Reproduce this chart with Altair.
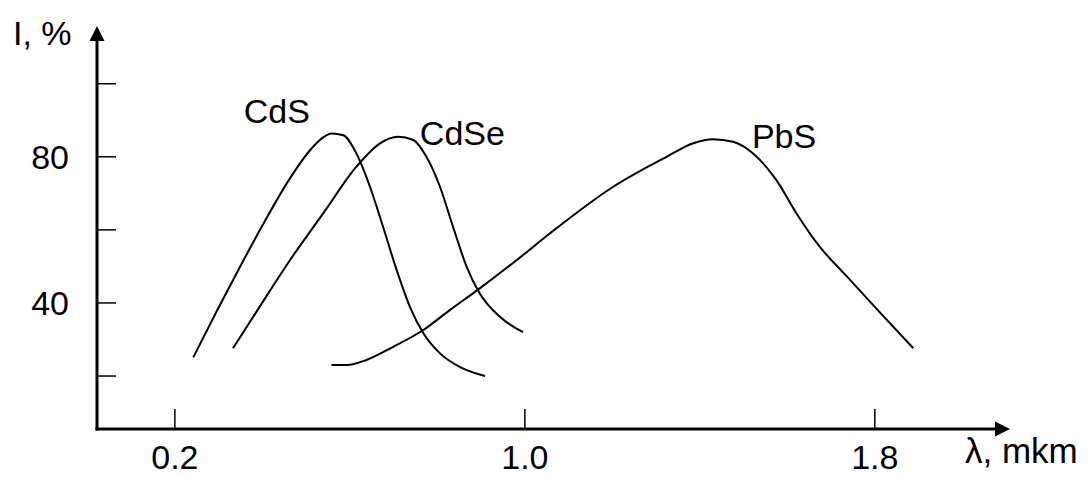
import altair as alt
import pandas as pd

# ---- data ----
cds_x = [0.242, 0.295, 0.349, 0.402, 0.463, 0.509, 0.539, 0.558, 0.585, 0.615, 0.646, 0.676, 0.707, 0.737, 0.768, 0.806, 0.851, 0.909]
cds_y = [25.1, 37.6, 49.9, 61.6, 74.1, 81.8, 85.3, 86.4, 85.9, 80.9, 71.8, 60.8, 49.0, 39.0, 31.7, 26.2, 22.5, 20.0]

cdse_x = [0.333, 0.394, 0.463, 0.539, 0.615, 0.669, 0.710, 0.745, 0.775, 0.806, 0.836, 0.867, 0.897, 0.943, 0.996]
cdse_y = [27.6, 39.0, 51.7, 64.5, 77.3, 83.7, 85.5, 84.6, 80.0, 71.8, 60.8, 49.9, 42.6, 36.2, 32.0]

pbs_x = [0.558, 0.593, 0.638, 0.699, 0.768, 0.829, 0.897, 0.981, 1.057, 1.202, 1.324, 1.385, 1.430, 1.476, 1.530, 1.575, 1.621, 1.674, 1.735, 1.811, 1.888]
pbs_y = [23.0, 23.0, 24.4, 28.0, 32.6, 38.1, 44.0, 51.7, 59.0, 71.8, 80.0, 83.7, 84.8, 84.1, 80.0, 73.6, 64.5, 55.4, 47.4, 37.5, 27.6]

series_names = ["CdS", "CdSe", "PbS"]
label_x = [0.433, 0.760, 1.519]
label_y = [89.2, 83.2, 82.4]
label_align = ["center", "left", "left"]

xtick_vals = [0.2, 1.0, 1.8]
xtick_labels = ["0.2", "1.0", "1.8"]
ytick_vals = [20, 40, 60, 80, 100]
ylabel_vals = [40, 80]
ylabel_text = ["40", "80"]

# ---- build tables ----
rows = []
for name, xs_, ys_ in zip(series_names, [cds_x, cdse_x, pbs_x], [cds_y, cdse_y, pbs_y]):
    for i, (a, b) in enumerate(zip(xs_, ys_)):
        rows.append({"series": name, "order": i, "lam": a, "I": b})
curves = pd.DataFrame(rows)

labels = pd.DataFrame({"name": series_names, "lam": label_x, "I": label_y, "align": label_align})
xt = pd.DataFrame({"lam": xtick_vals, "label": xtick_labels})
yt = pd.DataFrame({"I": ytick_vals})
yl = pd.DataFrame({"I": ylabel_vals, "label": ylabel_text})
dummy = alt.Data(values=[{}])

FONT = "Liberation Sans"
FS = 34
W, H = 913, 403

xsc = alt.Scale(domain=[0.022, 2.109], nice=False, zero=False)
ysc = alt.Scale(domain=[5.5, 115.8], nice=False, zero=False)

X = lambda: alt.X("lam:Q", scale=xsc, axis=None)
Y = lambda: alt.Y("I:Q", scale=ysc, axis=None)

lines = alt.Chart(curves).mark_line(
    interpolate="monotone", color="black", strokeWidth=2
).encode(x=X(), y=Y(), detail="series:N", order="order:Q")

xaxis = alt.Chart(dummy).mark_rule(color="black", strokeWidth=3).encode(
    x=alt.value(-1.5), x2=alt.value(W - 14), y=alt.value(H)
)
yaxis = alt.Chart(dummy).mark_rule(color="black", strokeWidth=3).encode(
    x=alt.value(0), y=alt.value(H + 1.5), y2=alt.value(14)
)
yarrow = alt.Chart(dummy).mark_point(
    shape="M0,-1L1,1L-1,1Z", filled=True, color="black", opacity=1, size=225, strokeWidth=0
).encode(x=alt.value(0), y=alt.value(7.5))
xarrow = alt.Chart(dummy).mark_point(
    shape="M1,0L-1,-1L-1,1Z", filled=True, color="black", opacity=1, size=225, strokeWidth=0
).encode(x=alt.value(W - 7.5), y=alt.value(H))

xticks = alt.Chart(xt).mark_rule(color="black", strokeWidth=1.5).encode(
    x=X(), y=alt.value(H), y2=alt.value(H - 20)
)
yticks = alt.Chart(yt).mark_rule(color="black", strokeWidth=1.5).encode(
    y=Y(), x=alt.value(0), x2=alt.value(19)
)

xlabels = alt.Chart(xt).mark_text(
    font=FONT, fontSize=FS, color="black", align="center", baseline="alphabetic"
).encode(x=X(), y=alt.value(H + 40), text="label:N")
ylabels = alt.Chart(yl).mark_text(
    font=FONT, fontSize=FS, color="black", align="right", baseline="middle", dy=2
).encode(y=Y(), x=alt.value(-28), text="label:N")

curve_labels = [
    alt.Chart(labels[labels["name"] == n]).mark_text(
        font=FONT, fontSize=FS, color="black", align=a, baseline="alphabetic"
    ).encode(x=X(), y=Y(), text="name:N")
    for n, a in zip(series_names, label_align)
]

ytitle = alt.Chart(dummy).mark_text(
    font=FONT, fontSize=FS, color="black", align="left", baseline="alphabetic", text="I, %"
).encode(x=alt.value(-84), y=alt.value(19))
xtitle = alt.Chart(dummy).mark_text(
    font=FONT, fontSize=35, color="black", align="left", baseline="alphabetic", text="λ, mkm"
).encode(x=alt.value(868), y=alt.value(437))

chart = alt.layer(
    lines, xaxis, yaxis, yarrow, xarrow, xticks, yticks, xlabels, ylabels,
    *curve_labels, ytitle, xtitle
).properties(
    width=W, height=H,
    autosize=alt.AutoSizeParams(type="none"),
    padding={"left": 89, "top": 18, "right": 71, "bottom": 48},
).configure(background="white", view=alt.ViewConfig(stroke=None))

chart.save("out.html", embed_options={"renderer": "svg", "actions": False})
